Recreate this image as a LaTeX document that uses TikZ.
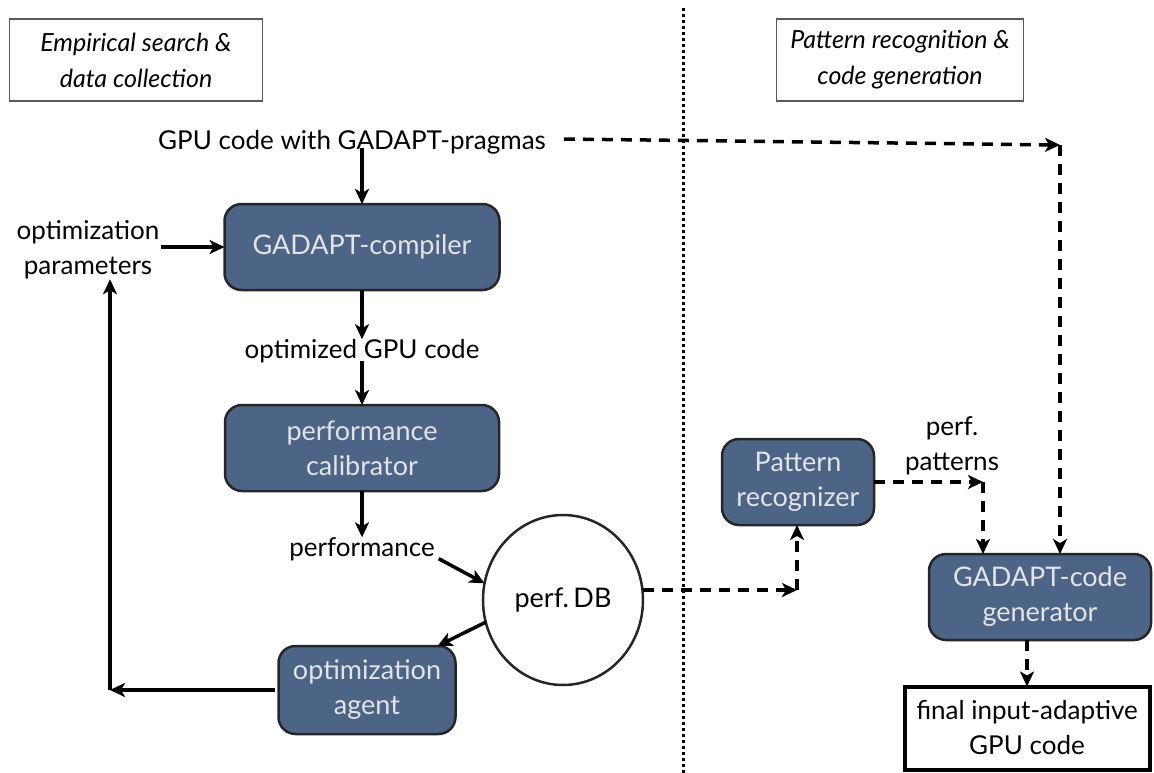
\documentclass[tikz,border=0pt]{standalone}
\usepackage{fontspec}
\setmainfont{Lato}
\usetikzlibrary{arrows.meta,shapes.geometric}
\definecolor{boxblue}{HTML}{4C6587}
\definecolor{boxtext}{HTML}{E2E4E8}
\begin{document}
\begin{tikzpicture}[x=1pt,y=-1pt,
  every node/.style={inner sep=0pt, outer sep=0pt},
  lbl/.style={align=center, font=\fontsize{26}{35}\selectfont},
  title/.style={draw=black!65, line width=1.4pt, align=center, font=\fontsize{25}{36}\selectfont\itshape},
  proc/.style={draw=black!85, line width=2.5pt, fill=boxblue, rounded corners=17pt, align=center, text=boxtext, font=\fontsize{27}{35}\selectfont},
  arr/.style={line width=3.5pt, -{Stealth[length=15pt,width=14pt,inset=4pt]}},
  darr/.style={arr, dash pattern=on 11pt off 8pt}]
\useasboundingbox (0,0) rectangle (1154,773);
% section divider
\draw[line width=3pt, dash pattern=on 3pt off 3pt] (683,8) -- (683,773);
% titles
\node[title, minimum width=253pt, minimum height=82pt] (t1) at (136,60) {Empirical search \&\\data collection};
\node[title, minimum width=247pt, minimum height=82pt] (t2) at (900,60) {Pattern recognition \&\\code generation};
% labels
\node[lbl] (gpu) at (352,142) {GPU code with GADAPT-pragmas};
\node[lbl] (params) at (88,250) {optimization\\parameters};
\node[lbl] (ogc) at (362,351) {optimized GPU code};
\node[lbl] (perf) at (362,549) {performance};
\node[lbl] (pp) at (952,446) {perf.\\patterns};
% process boxes
\node[proc, minimum width=275pt, minimum height=86pt] (comp) at (362,247) {GADAPT-compiler};
\node[proc, minimum width=274pt, minimum height=86pt] (cal) at (362,448) {performance\\calibrator};
\node[proc, minimum width=177pt, minimum height=88pt] (agent) at (367,690) {optimization\\agent};
\node[proc, minimum width=152pt, minimum height=86pt] (pat) at (798,482) {Pattern\\recognizer};
\node[proc, minimum width=222pt, minimum height=86pt] (gen) at (1040,597) {GADAPT-code\\generator};
\node[draw, line width=4pt, minimum width=245pt, minimum height=83pt, lbl] (final) at (1027,728) {final input-adaptive\\GPU code};
\node[draw=black!85, line width=2.5pt, ellipse, minimum width=160pt, minimum height=170pt, font=\fontsize{27}{35}\selectfont] (db) at (563,600) {perf.\,DB};
% coordinates
\coordinate (c1) at (1060,145);
\coordinate (c2) at (110,690);
\coordinate (c3) at (797,590);
\coordinate (c4) at (983,482);
% solid connectors
\draw[arr] ([yshift=6pt]comp.north |- gpu.south) -- (comp.north);
\draw[arr] ([xshift=2pt]params.east |- comp.west) -- (comp.west);
\draw[arr] (comp.south) -- (ogc.north -| comp.south);
\draw[arr] ([yshift=2pt]ogc.south -| cal.north) -- (cal.north);
\draw[arr] (cal.south) -- (perf.north -| cal.south);
\draw[arr] ([xshift=4pt,yshift=2pt]perf.south east) -- (db.168);
\draw[arr] (db.196) -- ([xshift=-18pt]agent.north east);
\draw[arr] ([xshift=-4pt]agent.west) -- (c2);
\draw[arr] (c2) -- (params.south -| c2);
% dashed connectors
\draw[darr] ([xshift=18pt,yshift=3pt]gpu.east) -- (c1);
\draw[darr] (c1) -- (gen.north -| c1);
\draw[darr] (db.east |- c3) -- (c3);
\draw[darr] (c3) -- (pat.south -| c3);
\draw[darr] (pat.east) -- (c4);
\draw[darr] (c4) -- (gen.north -| c4);
\draw[darr] (gen.south -| final.north) -- (final.north);
\end{tikzpicture}
\end{document}
